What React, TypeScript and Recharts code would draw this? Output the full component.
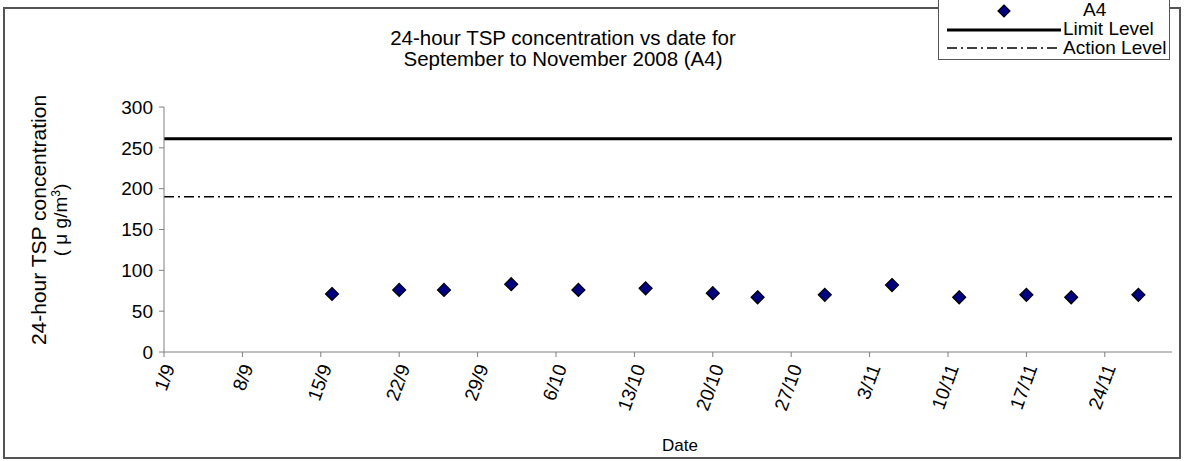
import React from "react";
import {
  ScatterChart,
  Scatter,
  XAxis,
  YAxis,
  ReferenceLine,
} from "recharts";

// days counted from 1 September 2008
const SAMPLE_DAYS = [15, 21, 25, 31, 37, 43, 49, 53, 59, 65, 71, 77, 81, 87];
const TSP_VALUES = [71, 76, 76, 83, 76, 78, 72, 67, 70, 82, 67, 70, 67, 70];
const LIMIT_LEVEL = 261;
const ACTION_LEVEL = 190;
const X_TICKS = [0, 7, 14, 21, 28, 35, 42, 49, 56, 63, 70, 77, 84];
const Y_TICKS = [0, 50, 100, 150, 200, 250, 300];

const FONT = "'Liberation Sans', Arial, sans-serif";

const data = SAMPLE_DAYS.map((day, i) => ({ day, value: TSP_VALUES[i] }));

function dayLabel(d: number) {
  const date = new Date(2008, 8, 1 + d);
  return `${date.getDate()}/${date.getMonth() + 1}`;
}

function DateTick({ x, y, payload }: any) {
  const ax = x + 5;
  const ay = y + 6;
  return (
    <text
      x={ax}
      y={ay}
      transform={`rotate(-70, ${ax}, ${ay})`}
      textAnchor="end"
      dy="0.35em"
      fontSize={19}
      fontFamily={FONT}
      fill="#000"
    >
      {dayLabel(payload.value)}
    </text>
  );
}

function Diamond({ cx, cy }: any) {
  const r = 6.5;
  return (
    <polygon
      points={`${cx},${cy - r} ${cx + r},${cy} ${cx},${cy + r} ${cx - r},${cy}`}
      fill="#000080"
      stroke="#000"
      strokeWidth={1.2}
    />
  );
}

export default function App() {
  return (
    <div style={{ position: "absolute", left: 0, top: 0, width: 1184, height: 461, background: "#fff", fontFamily: FONT }}>
      {/* chart frame */}
      <div style={{ position: "absolute", left: 3, top: 7, width: 1178, height: 452, border: "2px solid #555", boxSizing: "border-box" }} />

      {/* title */}
      <div style={{ position: "absolute", left: 313, top: 27, width: 500, textAlign: "center", fontSize: 20.5, lineHeight: "21px", color: "#000" }}>
        24-hour TSP concentration vs date for
        <br />
        September to November 2008 (A4)
      </div>

      {/* y axis title */}
      <div
        style={{
          position: "absolute",
          left: 50 - 160,
          top: 220 - 22,
          width: 320,
          height: 44,
          transform: "rotate(-90deg)",
          textAlign: "center",
          fontSize: 21,
          lineHeight: "21px",
          color: "#000",
        }}
      >
        24-hour TSP concentration
        <br />
        <span style={{ fontSize: 19 }}>
          ( μ g/m<sup style={{ fontSize: 12, lineHeight: 0 }}>3</sup>)
        </span>
      </div>

      {/* x axis title */}
      <div style={{ position: "absolute", left: 630, top: 436, width: 100, textAlign: "center", fontSize: 17, color: "#000" }}>
        Date
      </div>

      <div style={{ position: "absolute", left: 0, top: 0 }}>
        <ScatterChart width={1184} height={461} margin={{ top: 107, right: 12, bottom: 0, left: 0 }}>
          <XAxis
            type="number"
            dataKey="day"
            domain={[0, 90]}
            ticks={X_TICKS}
            interval={0}
            height={109}
            stroke="#808080"
            tickSize={5}
            tickMargin={2}
            tick={<DateTick />}
          />
          <YAxis
            type="number"
            dataKey="value"
            domain={[0, 300]}
            ticks={Y_TICKS}
            interval={0}
            width={164}
            stroke="#808080"
            tickSize={5}
            tickMargin={6}
            tick={{ fontSize: 19, fill: "#000", fontFamily: FONT }}
          />
          <ReferenceLine y={LIMIT_LEVEL} stroke="#000" strokeWidth={3} ifOverflow="extendDomain" />
          <ReferenceLine y={ACTION_LEVEL} stroke="#000" strokeWidth={1.5} strokeDasharray="10 4 2 4" />
          <Scatter data={data} shape={<Diamond />} isAnimationActive={false} />
        </ScatterChart>
      </div>

      {/* legend */}
      <div style={{ position: "absolute", left: 938, top: -1, width: 232, height: 61, border: "1.5px solid #555", boxSizing: "border-box", background: "#fff" }}>
        <svg width={232} height={61} style={{ position: "absolute", left: 0, top: 0 }}>
          <polygon points="65,5 71,11 65,17 59,11" fill="#000080" stroke="#000" strokeWidth={1.2} />
          <line x1={8} y1={30} x2={122} y2={30} stroke="#000" strokeWidth={3} />
          <line x1={8} y1={48} x2={122} y2={48} stroke="#000" strokeWidth={1.5} strokeDasharray="10 4 2 4" />
        </svg>
        <div style={{ position: "absolute", left: 144, top: 0, fontSize: 19, lineHeight: "19px", color: "#000" }}>A4</div>
        <div style={{ position: "absolute", left: 124, top: 19, fontSize: 19, lineHeight: "19px", color: "#000" }}>Limit Level</div>
        <div style={{ position: "absolute", left: 124, top: 38, fontSize: 19, lineHeight: "19px", color: "#000" }}>Action Level</div>
      </div>
    </div>
  );
}
